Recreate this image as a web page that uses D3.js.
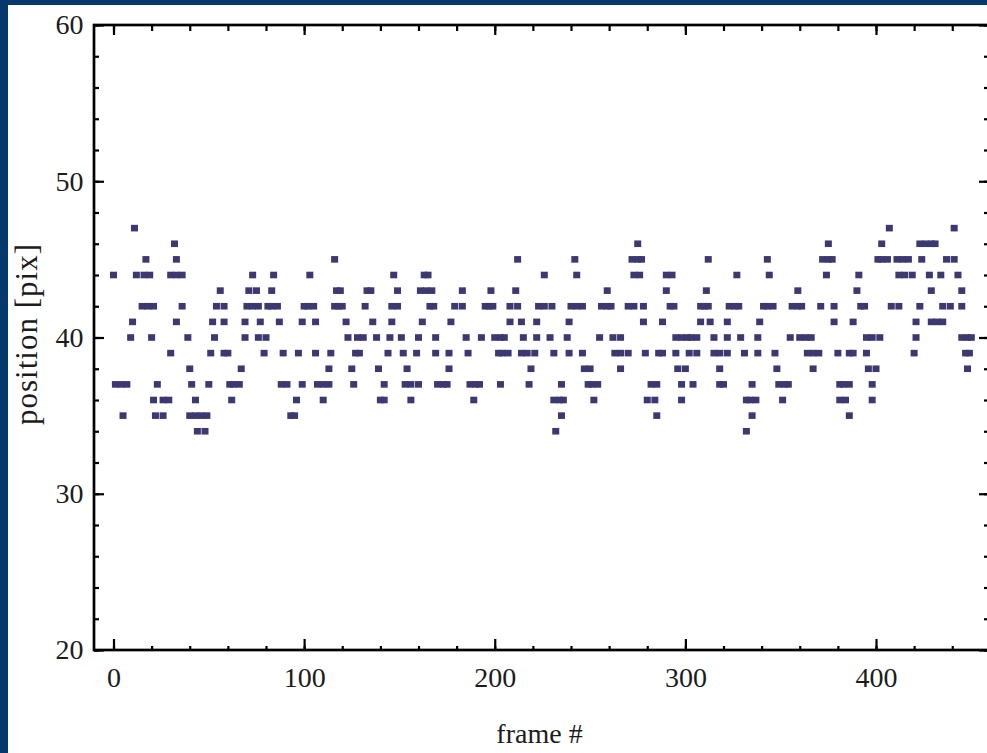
<!DOCTYPE html>
<html>
<head>
<meta charset="utf-8">
<script src="https://cdn.jsdelivr.net/npm/d3@7"></script>
<style>
  html, body { margin: 0; padding: 0; background: #05396b; overflow: hidden; }
  svg { display: block; }
</style>
</head>
<body>
<svg id="chart" width="987" height="753"></svg>
<script>
// frame numbers at which the tracked position sits on each pixel row
var frames34 = [44, 48, 232, 332];
var frames35 = [5, 22, 26, 40, 43, 46, 49, 93, 95, 235, 285, 335, 386];
var frames36 = [21, 26, 29, 43, 62, 96, 110, 140, 142, 156, 189, 231, 234, 236, 252, 280, 284, 298, 332, 334, 337, 351, 381, 384, 398];
var frames37 = [1, 4, 7, 23, 41, 50, 61, 63, 66, 88, 91, 99, 107, 110, 113, 126, 142, 153, 156, 160, 170, 173, 175, 187, 190, 192, 203, 218, 235, 249, 251, 254, 282, 285, 298, 304, 318, 320, 335, 349, 352, 354, 381, 383, 386, 398];
var frames38 = [40, 67, 113, 125, 139, 154, 176, 219, 247, 250, 266, 296, 300, 318, 348, 367, 396, 400, 448];
var frames39 = [30, 51, 58, 60, 79, 89, 97, 106, 114, 127, 129, 144, 152, 159, 169, 176, 186, 202, 204, 207, 214, 217, 221, 231, 239, 246, 263, 266, 270, 279, 286, 288, 295, 302, 306, 315, 318, 322, 331, 338, 347, 364, 367, 370, 380, 386, 388, 395, 420, 447, 449];
var frames40 = [9, 20, 39, 53, 69, 76, 80, 123, 128, 131, 138, 145, 151, 160, 169, 185, 193, 200, 203, 205, 215, 222, 229, 238, 255, 262, 266, 295, 298, 301, 303, 306, 315, 322, 329, 338, 355, 360, 363, 366, 395, 398, 402, 421, 445, 448, 450];
var frames41 = [10, 33, 52, 58, 69, 77, 87, 99, 106, 122, 136, 146, 162, 177, 208, 214, 222, 239, 278, 288, 308, 313, 322, 339, 378, 388, 421, 429, 432, 435];
var frames42 = [15, 18, 21, 36, 54, 58, 70, 73, 76, 81, 83, 86, 100, 102, 105, 116, 118, 120, 132, 146, 149, 166, 168, 179, 183, 195, 197, 199, 208, 212, 223, 226, 230, 240, 243, 246, 256, 259, 261, 270, 273, 278, 292, 294, 308, 310, 312, 323, 326, 328, 341, 343, 346, 356, 359, 361, 371, 378, 392, 394, 408, 412, 423, 435, 439, 445];
var frames43 = [56, 71, 75, 83, 117, 119, 133, 135, 149, 161, 164, 167, 183, 198, 211, 259, 290, 311, 359, 390, 429, 445];
var frames44 = [0, 12, 16, 19, 30, 33, 36, 73, 84, 103, 147, 163, 165, 226, 243, 273, 276, 290, 293, 327, 344, 374, 391, 412, 415, 419, 428, 434, 443];
var frames45 = [17, 33, 116, 212, 242, 272, 275, 277, 312, 343, 372, 375, 377, 401, 403, 406, 411, 414, 417, 424, 437, 441];
var frames46 = [32, 275, 375, 403, 423, 426, 429, 431];
var frames47 = [11, 407, 441];

var positionLevels = [34, 35, 36, 37, 38, 39, 40, 41, 42, 43, 44, 45, 46, 47];
var framesByLevel = [frames34, frames35, frames36, frames37, frames38, frames39, frames40,
    frames41, frames42, frames43, frames44, frames45, frames46, frames47];

var xTickLabels = [0, 100, 200, 300, 400];
var xMinorTicks = d3.range(0, 441, 20);
var yTickLabels = [20, 30, 40, 50, 60];
var yMinorTicks = d3.range(20, 61, 2);

var points = [];
positionLevels.forEach(function (lvl, i) {
    framesByLevel[i].forEach(function (f) { points.push({ frame: f, pos: lvl }); });
});

var svg = d3.select("#chart");

// white page inside the blue border
svg.append("rect")
    .attr("x", 8).attr("y", 5)
    .attr("width", 987 - 8).attr("height", 753 - 5)
    .attr("fill", "#ffffff");

// right edge of the frame sits just past the picture, only its ticks show
var plotLeft = 94, plotRight = 991, plotTop = 25, plotBottom = 650;

var xScale = d3.scaleLinear().domain([0, 400]).range([113.5, 876]);
var yScale = d3.scaleLinear().domain([20, 60]).range([plotBottom, plotTop]);

var font = "'Liberation Serif', 'Times New Roman', serif";

// points
svg.append("g")
    .selectAll("rect")
    .data(points)
    .enter().append("rect")
    .attr("x", function (d) { return xScale(d.frame) - 3.5; })
    .attr("y", function (d) { return yScale(d.pos) - 3.3; })
    .attr("width", 7)
    .attr("height", 6.6)
    .attr("fill", "#3b3970");

function styleAxis(g) {
    g.select(".domain").remove();
    g.selectAll("line").attr("stroke", "#000").attr("stroke-width", 2.2);
    g.selectAll("text")
        .attr("fill", "#1c1c1c")
        .style("font-family", font)
        .style("font-size", "28px");
}

// bottom axis
svg.append("g")
    .attr("transform", "translate(0," + plotBottom + ")")
    .call(d3.axisBottom(xScale).tickValues(xMinorTicks).tickSize(-4).tickFormat(""))
    .call(styleAxis);
svg.append("g")
    .attr("transform", "translate(0," + plotBottom + ")")
    .call(d3.axisBottom(xScale).tickValues(xTickLabels).tickSize(-11).tickPadding(17))
    .call(styleAxis);

// top axis
svg.append("g")
    .attr("transform", "translate(0," + plotTop + ")")
    .call(d3.axisTop(xScale).tickValues(xMinorTicks).tickSize(-6).tickFormat(""))
    .call(styleAxis);
svg.append("g")
    .attr("transform", "translate(0," + plotTop + ")")
    .call(d3.axisTop(xScale).tickValues(xTickLabels).tickSize(-10).tickFormat(""))
    .call(styleAxis);

// left axis
svg.append("g")
    .attr("transform", "translate(" + plotLeft + ",0)")
    .call(d3.axisLeft(yScale).tickValues(yMinorTicks).tickSize(-5).tickFormat(""))
    .call(styleAxis);
svg.append("g")
    .attr("transform", "translate(" + plotLeft + ",0)")
    .call(d3.axisLeft(yScale).tickValues(yTickLabels).tickSize(-10).tickPadding(10.5))
    .call(styleAxis);

// right axis
svg.append("g")
    .attr("transform", "translate(" + plotRight + ",0)")
    .call(d3.axisRight(yScale).tickValues(yMinorTicks).tickSize(-7).tickFormat(""))
    .call(styleAxis);
svg.append("g")
    .attr("transform", "translate(" + plotRight + ",0)")
    .call(d3.axisRight(yScale).tickValues(yTickLabels).tickSize(-12).tickFormat(""))
    .call(styleAxis);

// frame
svg.append("rect")
    .attr("x", plotLeft).attr("y", plotTop)
    .attr("width", plotRight - plotLeft).attr("height", plotBottom - plotTop)
    .attr("fill", "none")
    .attr("stroke", "#000")
    .attr("stroke-width", 2.7);

// axis titles
svg.append("text")
    .attr("x", (plotLeft + 985) / 2)
    .attr("y", 743)
    .attr("text-anchor", "middle")
    .attr("fill", "#1c1c1c")
    .style("font-family", font)
    .style("font-size", "28px")
    .text("frame #");

svg.append("text")
    .attr("transform", "translate(37,334) rotate(-90)")
    .attr("text-anchor", "middle")
    .attr("fill", "#1c1c1c")
    .style("font-family", font)
    .style("font-size", "31px")
    .style("letter-spacing", "1px")
    .text("position [pix]");
</script>
</body>
</html>
